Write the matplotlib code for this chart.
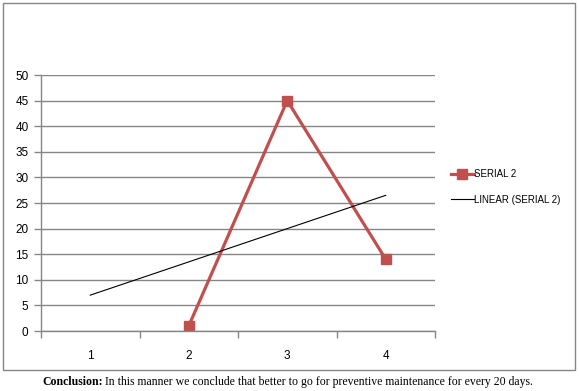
import matplotlib

matplotlib.use("Agg")
import matplotlib.pyplot as plt
from matplotlib.patches import Rectangle


# data
categories = [1, 2, 3, 4]
serial2_x = [2, 3, 4]
serial2_y = [1, 45, 14]
trend_x = [1, 4]
trend_y = [7, 26.5]
y_ticks = list(range(0, 55, 5))

RED = "#C0504D"
GRID = "#868686"
caption_bold = "Conclusion:"
caption_rest = " In this manner we conclude that better to go for preventive maintenance for every 20 days."

plt.rcParams["font.family"] = ["Liberation Sans", "DejaVu Sans"]

fig = plt.figure(figsize=(5.79, 3.91), dpi=100)

# outer chart frame
fig.patches.append(
    Rectangle((3 / 579, 1 - 370 / 391), 572 / 579, 367 / 391,
              transform=fig.transFigure, fill=False, edgecolor=GRID, linewidth=1.0)
)

ax = fig.add_axes([41 / 579, 1 - 331 / 391, 394 / 579, 256 / 391])

line_s, = ax.plot(serial2_x, serial2_y, color=RED, linewidth=2.3,
                  marker="s", markersize=7, label="SERIAL 2")
line_t, = ax.plot(trend_x, trend_y, color="black", linewidth=0.8,
                  label="LINEAR (SERIAL 2)")

ax.set_xlim(0.5, 4.5)
ax.set_ylim(0, 50)
ax.set_yticks(y_ticks)
ax.yaxis.grid(True, color=GRID, linewidth=1.0)
ax.set_axisbelow(True)

ax.set_xticks(categories)
ax.set_xticks([0.5, 1.5, 2.5, 3.5, 4.5], minor=True)
ax.tick_params(axis="x", which="major", length=0, pad=14, labelsize=8.5)
ax.tick_params(axis="x", which="minor", length=5, color=GRID, width=1.0)
ax.tick_params(axis="y", length=5, color=GRID, width=1.0, labelsize=8.5, pad=4)

for side in ["top", "right"]:
    ax.spines[side].set_visible(False)
for side in ["left", "bottom"]:
    ax.spines[side].set_color(GRID)
    ax.spines[side].set_linewidth(1.0)

fig.legend(handles=[line_s, line_t], loc="center left",
           bbox_to_anchor=(442 / 579, 1 - 187 / 391), frameon=False,
           fontsize=7, handlelength=2.4, handletextpad=0.0, labelspacing=1.6)

# caption below the chart frame: bold lead-in followed by plain text
t1 = fig.text(42 / 579, 1 - 382 / 391, caption_bold, family="Liberation Serif",
              weight="bold", fontsize=8.5, va="center", ha="left")
ax.annotate(caption_rest, xy=(1, 0), xycoords=t1, va="bottom", ha="left",
            family="Liberation Serif", fontsize=8.5, annotation_clip=False)

fig.savefig("out.png", dpi=100)
